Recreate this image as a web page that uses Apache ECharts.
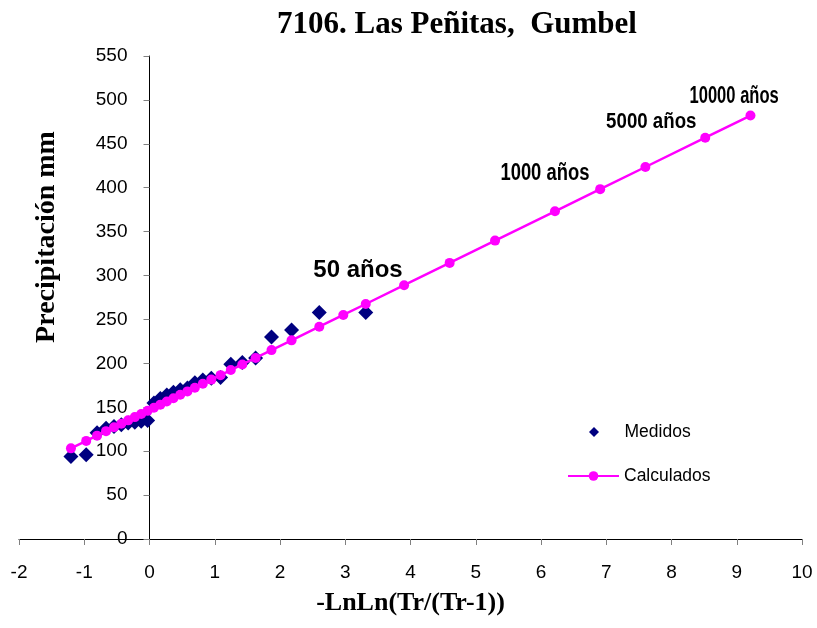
<!DOCTYPE html>
<html>
<head>
<meta charset="utf-8">
<script src="https://cdn.jsdelivr.net/npm/echarts@6/dist/echarts.min.js"></script>
<style>html,body{margin:0;padding:0;background:#fff}#c{width:817px;height:628px}</style>
</head>
<body>
<div id="c"></div>
<script>
// Measured: reduced variate x and precipitation (mm)
const measuredX = [3.314, 2.602, 2.177, 1.870, 1.626, 1.422, 1.246, 1.089, 0.947, 0.817, 0.695, 0.581, 0.471, 0.367, 0.265, 0.166, 0.068, -0.029, -0.127, -0.225, -0.327, -0.432, -0.544, -0.666, -0.804, -0.970, -1.204];
const measuredY = [258, 258, 238, 230, 206, 201, 199, 184, 183, 181, 178, 172, 170, 167, 164, 160, 155, 135, 134, 133, 132, 130, 128, 126, 121, 96, 94];

// Calculated (Gumbel fit)
const calcX = [-1.204, -0.970, -0.804, -0.666, -0.544, -0.432, -0.327, -0.225, -0.127, -0.029, 0.068, 0.166, 0.265, 0.367, 0.471, 0.581, 0.695, 0.817, 0.947, 1.089, 1.246, 1.422, 1.626, 1.870, 2.177, 2.602, 2.970, 3.314, 3.902, 4.600, 5.296, 6.214, 6.907, 7.600, 8.517, 9.210];
const calcY = [103.2, 111.7, 117.7, 122.8, 127.2, 131.3, 135.1, 138.8, 142.4, 145.9, 149.5, 153.0, 156.6, 160.3, 164.2, 168.1, 172.3, 176.7, 181.5, 186.6, 192.4, 198.8, 206.2, 215.1, 226.2, 241.7, 255.1, 267.6, 289.0, 314.4, 339.8, 373.2, 398.4, 423.6, 457.0, 482.2];

// Return-period annotations (anchor in data coordinates)
const annotText = ['50 años', '1000 años', '5000 años', '10000 años'];
const annotX = [3.195, 6.06, 7.69, 8.96];
const annotY = [306, 416, 475.3, 503.3];
const annotStyle = [
  {size: 24, scaleX: 1.0},
  {size: 23, scaleX: 0.80},
  {size: 22.5, scaleX: 0.83},
  {size: 23, scaleX: 0.72}
];

const xTicks = {min: -2, max: 10, interval: 1};
const yTicks = {min: 0, max: 550, interval: 50};

const chart = echarts.init(document.getElementById('c'), null, {renderer: 'canvas'});
const sans = 'Liberation Sans, Arial, sans-serif';
const serif = 'Liberation Serif, Times New Roman, serif';
const gridLeft = 19;
const diamondPath = 'path://M0,-1L1,0L0,1L-1,0Z';

const option = {
  animation: false,
  backgroundColor: '#fff',
  title: {
    text: '7106. Las Peñitas,  Gumbel',
    left: 272, top: 4,
    textStyle: {fontFamily: serif, fontWeight: 'bold', fontSize: 31, color: '#000'}
  },
  grid: {left: gridLeft, right: 15, top: 56, bottom: 89, containLabel: false, outerBoundsMode: 'none'},
  xAxis: {
    type: 'value', min: xTicks.min, max: xTicks.max, interval: xTicks.interval,
    name: '-LnLn(Tr/(Tr-1))', nameLocation: 'middle', nameGap: 51,
    nameTextStyle: {fontFamily: serif, fontWeight: 'bold', fontSize: 26, color: '#000'},
    axisLine: {onZero: true, lineStyle: {color: '#000', width: 1}},
    axisTick: {show: true, length: 6, lineStyle: {color: '#808080'}},
    axisLabel: {fontFamily: sans, fontSize: 19, color: '#000', margin: 24},
    splitLine: {show: false}
  },
  yAxis: {
    type: 'value', min: yTicks.min, max: yTicks.max, interval: yTicks.interval,
    position: 'left', offset: 0,
    axisLine: {show: true, onZero: false, lineStyle: {color: '#000', width: 1}},
    axisTick: {show: true, length: 6, lineStyle: {color: '#808080'}},
    axisLabel: {fontFamily: sans, fontSize: 19, color: '#000', margin: 22},
    splitLine: {show: false}
  },
  legend: [
    {
      data: [{name: 'Medidos', icon: diamondPath}],
      left: 589, top: 423, padding: 0, itemWidth: 51, itemHeight: 10, itemGap: 5,
      symbolKeepAspect: true,
      selectedMode: false,
      textStyle: {fontFamily: sans, fontSize: 17.5, color: '#000'}
    },
    {
      data: ['Calculados'],
      left: 567, top: 467, padding: 0, itemWidth: 51, itemHeight: 12, itemGap: 5,
      selectedMode: false,
      textStyle: {fontFamily: sans, fontSize: 17.5, color: '#000'}
    }
  ],
  series: [
    {
      name: 'Medidos', type: 'scatter', symbol: 'diamond', symbolSize: 15,
      itemStyle: {color: '#000080', opacity: 1},
      data: measuredX.map((x, i) => [x, measuredY[i]]),
      z: 2
    },
    {
      name: 'Calculados', type: 'line', symbol: 'circle', symbolSize: 10, showSymbol: true,
      lineStyle: {color: '#FF00FF', width: 2.5},
      itemStyle: {color: '#FF00FF', borderWidth: 0, opacity: 1},
      data: calcX.map((x, i) => [x, calcY[i]]),
      z: 3
    }
  ]
};
chart.setOption(option);

// Move the y axis (line, ticks and labels) to x = 0
const zeroPx = chart.convertToPixel({xAxisIndex: 0}, 0);
chart.setOption({yAxis: {offset: -(zeroPx - gridLeft)}});

const graphics = [{
  type: 'text', x: 47, y: 237, rotation: Math.PI / 2,
  style: {text: 'Precipitación mm', fill: '#000', font: 'bold 28px ' + serif, align: 'center', verticalAlign: 'middle'}
}];
annotText.forEach((t, i) => {
  const p = chart.convertToPixel({gridIndex: 0}, [annotX[i], annotY[i]]);
  graphics.push({
    type: 'text', x: p[0], y: p[1], scaleX: annotStyle[i].scaleX, scaleY: 1,
    style: {text: t, fill: '#000', font: 'bold ' + annotStyle[i].size + 'px ' + sans, align: 'center', verticalAlign: 'middle'}
  });
});
chart.setOption({graphic: graphics});
</script>
</body>
</html>
